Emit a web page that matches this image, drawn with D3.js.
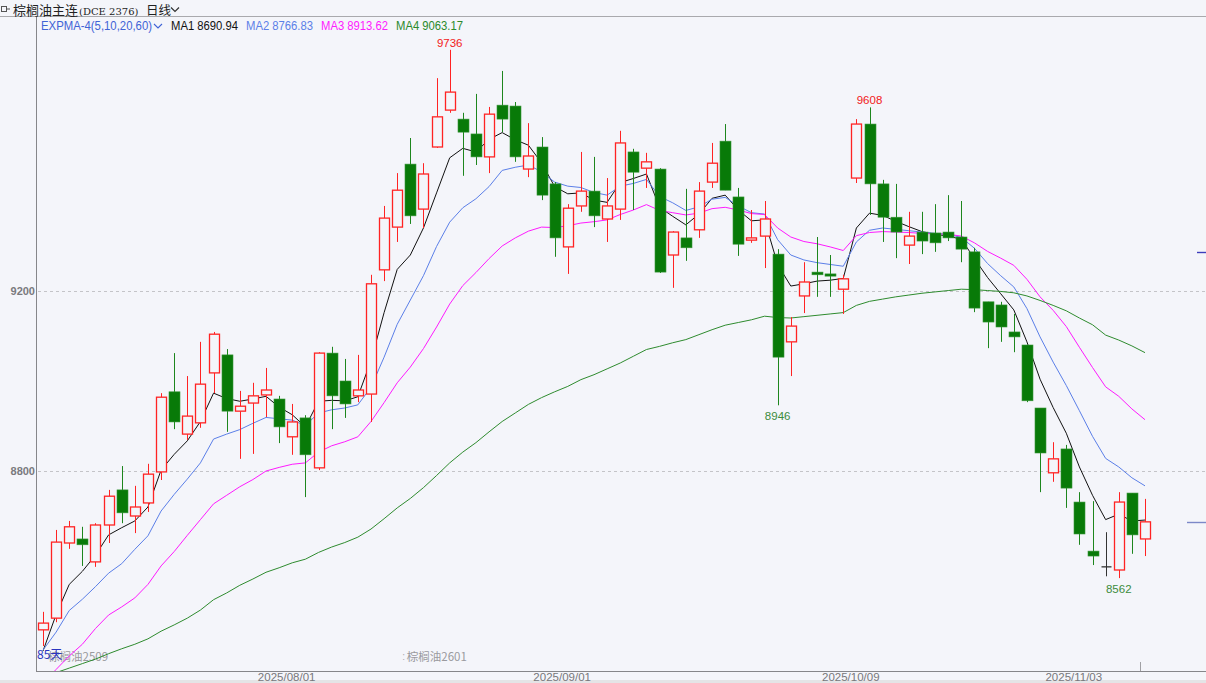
<!DOCTYPE html>
<html>
<head>
<meta charset="utf-8">
<script src="https://cdn.jsdelivr.net/npm/d3@7"></script>
<style>
html,body{margin:0;padding:0;background:#f4f5fa;}
svg{display:block;}
</style>
</head>
<body>
<svg id="chart" width="1206" height="683"></svg>
<script>
// ---------------- data ----------------
const dates = [
"2025-07-08","2025-07-09","2025-07-10","2025-07-11","2025-07-14","2025-07-15","2025-07-16","2025-07-17","2025-07-18",
"2025-07-21","2025-07-22","2025-07-23","2025-07-24","2025-07-25","2025-07-28","2025-07-29","2025-07-30","2025-07-31",
"2025-08-01","2025-08-04","2025-08-05","2025-08-06","2025-08-07","2025-08-08","2025-08-11","2025-08-12","2025-08-13",
"2025-08-14","2025-08-15","2025-08-18","2025-08-19","2025-08-20","2025-08-21","2025-08-22","2025-08-25","2025-08-26",
"2025-08-27","2025-08-28","2025-08-29","2025-09-01","2025-09-02","2025-09-03","2025-09-04","2025-09-05","2025-09-08",
"2025-09-09","2025-09-10","2025-09-11","2025-09-12","2025-09-15","2025-09-16","2025-09-17","2025-09-18","2025-09-19",
"2025-09-22","2025-09-23","2025-09-24","2025-09-25","2025-09-26","2025-09-29","2025-09-30","2025-10-09","2025-10-10",
"2025-10-13","2025-10-14","2025-10-15","2025-10-16","2025-10-17","2025-10-20","2025-10-21","2025-10-22","2025-10-23",
"2025-10-24","2025-10-27","2025-10-28","2025-10-29","2025-10-30","2025-10-31","2025-11-03","2025-11-04","2025-11-05",
"2025-11-06","2025-11-07","2025-11-10","2025-11-11"];

const openV = [8447,8473,8640,8649,8598,8680,8758,8700,8729,8798,8976,8882,8907,9018,9058,8933,8951,8969,8960,8876,
8918,8807,9062,9000,8967,8971,9247,9342,9482,9382,9520,9602,9582,9549,9498,9613,9611,9471,9520,9438,
9298,9389,9422,9360,9382,9509,9473,9471,9280,9318,9336,9442,9533,9409,9313,9322,9282,9087,9189,9242,
9238,9204,9451,9571,9438,9364,9302,9331,9329,9331,9320,9287,9176,9169,9109,9080,8940,8796,8849,8731,
8622,8587,8580,8751,8649];
const highV = [8487,8669,8689,8676,8684,8758,8811,8767,8816,8973,9062,9011,9087,9109,9071,8978,8996,9029,8967,8949,
8924,9064,9076,9049,9058,9236,9389,9462,9540,9484,9673,9736,9596,9638,9609,9689,9620,9573,9542,9442,
9393,9509,9498,9451,9556,9516,9507,9473,9333,9427,9442,9529,9571,9429,9380,9400,9293,9142,9264,9320,
9280,9236,9582,9608,9447,9438,9376,9376,9393,9413,9400,9296,9176,9176,9149,9080,8940,8864,8858,8753,
8733,8664,8753,8751,8738];
const lowV = [8411,8464,8627,8589,8587,8640,8684,8662,8709,8780,8893,8869,8896,8973,8887,8827,8838,8920,8862,8836,
8742,8802,8893,8918,8953,8909,9222,9309,9349,9340,9518,9596,9456,9480,9462,9553,9487,9453,9402,9276,
9238,9376,9342,9309,9358,9380,9429,9240,9207,9267,9318,9429,9424,9278,9307,9251,8946,9011,9151,9187,
9187,9149,9440,9369,9309,9273,9260,9282,9287,9311,9264,9153,9073,9087,9064,8953,8753,8776,8718,8636,
8591,8566,8562,8616,8611];
const closeV = [8462,8642,8676,8636,8680,8744,8707,8720,8793,8964,8909,8922,8993,9104,8933,8944,8967,8980,8898,8909,
8836,9062,8967,8949,8980,9216,9362,9424,9367,9460,9587,9642,9553,9498,9593,9582,9498,9500,9413,9318,
9384,9422,9367,9389,9529,9464,9487,9242,9331,9296,9422,9484,9424,9304,9318,9360,9053,9122,9220,9236,
9233,9227,9571,9438,9364,9331,9322,9311,9307,9318,9293,9162,9131,9120,9098,8956,8840,8827,8762,8660,
8611,8587,8731,8658,8687];

// EXPMA-4 (5,10,20,60)
const ma1 = [8400,8481,8548,8577,8613,8658,8674,8689,8720,8802,8837,8867,8910,8973,8961,8955,8960,8966,8942,8925,
8898,8955,8957,8956,8965,9045,9152,9248,9280,9340,9418,9496,9517,9509,9537,9552,9536,9524,9485,9432,
9416,9418,9402,9397,9441,9450,9460,9386,9366,9347,9371,9406,9413,9380,9356,9358,9259,9211,9216,9222,
9224,9228,9340,9373,9368,9355,9343,9332,9326,9322,9315,9272,9230,9194,9158,9087,9004,8941,8884,8809,
8746,8692,8704,8689,8691];
const ma2 = [8402,8442,8490,8515,8543,8573,8594,8626,8656,8711,8748,8782,8818,8871,8882,8892,8906,8919,8916,8913,
8901,8929,8936,8940,8947,8986,9053,9126,9180,9234,9299,9353,9385,9405,9432,9468,9475,9480,9465,9442,
9433,9430,9419,9413,9433,9439,9448,9410,9396,9379,9387,9404,9408,9389,9374,9371,9314,9280,9269,9263,
9259,9255,9309,9335,9340,9337,9334,9331,9328,9326,9319,9295,9261,9234,9209,9161,9098,9042,8990,8934,
8877,8828,8809,8785,8767];
const ma3 = [8329,8359,8389,8415,8450,8480,8498,8518,8548,8589,8621,8657,8692,8727,8746,8765,8781,8800,8808,8815,
8818,8842,8856,8865,8876,8910,8952,8996,9031,9072,9120,9171,9212,9241,9272,9300,9318,9333,9342,9341,
9345,9351,9354,9358,9370,9380,9392,9379,9374,9369,9373,9383,9386,9380,9372,9370,9340,9320,9310,9305,
9298,9290,9323,9330,9332,9331,9330,9328,9327,9326,9322,9307,9288,9273,9257,9226,9187,9157,9121,9075,
9030,8987,8966,8938,8914];
const ma4 = [8345,8352,8362,8372,8382,8394,8405,8415,8427,8444,8458,8473,8491,8514,8529,8546,8560,8575,8585,8596,
8604,8619,8631,8641,8653,8671,8694,8718,8739,8763,8790,8818,8842,8863,8887,8910,8929,8948,8963,8976,
8988,9003,9014,9027,9040,9055,9070,9077,9085,9092,9103,9114,9124,9130,9136,9144,9141,9140,9143,9146,
9149,9152,9168,9177,9182,9187,9191,9195,9198,9201,9204,9203,9201,9199,9196,9189,9179,9168,9156,9140,
9125,9102,9091,9078,9063];

const maNames  = ["MA1","MA2","MA3","MA4"];
const maLast   = ["8690.94","8766.83","8913.62","9063.17"];
const indicatorName = "EXPMA-4(5,10,20,60)";
const yTickValues = [8800, 9200];
const xTickDates = ["2025-08-01","2025-09-01","2025-10-09","2025-11-03"];
const extremeDates  = ["2025-08-20","2025-10-13","2025-09-24","2025-11-07"];
const extremeValues = [9736, 9608, 8946, 8562];
const extremeKinds  = ["high","high","low","low"];
const rightMarkers = [9287, 8687];
const titleText = "棕榈油主连";
const titleCode = "(DCE  2376)";
const periodText = "日线";
const daysText = "85天";
const contractLabels = ["棕榈油2509", "棕榈油2601"];
const contractDates  = ["2025-07-08", "2025-08-14"];

// ---------------- drawing ----------------
const W = 1206, H = 683;
const BG = "#f4f5fa";
const plotL = 37, plotT = 17, plotB = 671, plotR = W;
const svg = d3.select("#chart");

svg.append("rect").attr("width", W).attr("height", H).attr("fill", BG);
svg.append("rect").attr("x", 0).attr("y", 680).attr("width", W).attr("height", 3).attr("fill", "#e4e4e6");

const x = d3.scalePoint().domain(dates).range([43, 1145]);
const y = d3.scaleLinear().domain([8800, 9200]).range([471, 291]);
const step = x.step();

const latin = "'Liberation Sans', Arial, sans-serif";
const cjk = "'Noto Sans CJK SC', 'Liberation Sans', sans-serif";

// grid lines
svg.append("g").selectAll("line").data(yTickValues).join("line")
  .attr("x1", plotL + 1).attr("x2", plotR)
  .attr("y1", d => Math.round(y(d)) + 0.5).attr("y2", d => Math.round(y(d)) + 0.5)
  .attr("stroke", "#c4c4c8").attr("stroke-dasharray", "3,3").attr("stroke-width", 1);

// y axis labels
const yAxis = d3.axisLeft(y).tickValues(yTickValues).tickSize(0).tickPadding(2).tickFormat(d3.format("d"));
const yg = svg.append("g").attr("transform", `translate(${plotL},0)`).call(yAxis);
yg.select(".domain").remove();
yg.selectAll("text").attr("font-family", latin).attr("font-size", 11).attr("font-weight", "bold").attr("fill", "#7a7a7e");

// x axis labels
const xAxis = d3.axisBottom(x).tickValues(xTickDates).tickSize(0).tickPadding(0)
  .tickFormat(d => d.replace(/-/g, "/"));
const xg = svg.append("g").attr("transform", `translate(0,${plotB})`).call(xAxis);
xg.select(".domain").remove();
xg.selectAll("text").attr("font-family", latin).attr("font-size", 11.5).attr("fill", "#77777b")
  .attr("text-anchor", "middle").attr("dx", 7).attr("dy", 0).attr("y", 9.5);

// frame lines
svg.append("line").attr("x1", 0).attr("x2", W).attr("y1", 16.5).attr("y2", 16.5).attr("stroke", "#a9a9ad");
svg.append("line").attr("x1", plotL - 0.5).attr("x2", plotL - 0.5).attr("y1", 17).attr("y2", plotB).attr("stroke", "#86868a");
svg.append("line").attr("x1", plotL - 1).attr("x2", W).attr("y1", plotB + 0.5).attr("y2", plotB + 0.5).attr("stroke", "#86868a");

// clip
svg.append("defs").append("clipPath").attr("id", "plotclip")
  .append("rect").attr("x", plotL).attr("y", plotT + 1).attr("width", plotR - plotL).attr("height", plotB - plotT - 1);
const plot = svg.append("g").attr("clip-path", "url(#plotclip)");

// contract labels (behind the lines)
plot.append("g").selectAll("text").data(contractLabels).join("text")
  .attr("x", (d, i) => i === 0 ? 48 : x(contractDates[i]) + step / 2 + 3)
  .attr("y", 661)
  .attr("font-family", cjk).attr("font-size", 11.5).attr("fill", "#9a9a9e").text(d => d);
plot.append("text").attr("x", x(contractDates[1]) + step / 2 - 1.5).attr("y", 660)
  .attr("font-family", latin).attr("font-size", 10).attr("fill", "#aaaaae").text(":");

// EMA lines
const maSeries = [ma1, ma2, ma3, ma4];
const maColors = ["#111111", "#5b7fe8", "#ff1aff", "#2e8b2e"];
const lineGen = d3.line().x((d, i) => x(dates[i])).y(d => y(d));
maSeries.forEach((s, k) => {
  plot.append("path").datum(s).attr("d", lineGen).attr("fill", "none")
    .attr("stroke", maColors[k]).attr("stroke-width", 1).attr("stroke-linejoin", "round");
});

// candles
const RED = "#ff2323", GREEN = "#087a08", GREEN_W = "#1d861d";
const bw = 10;
const candles = plot.append("g");
dates.forEach((d, i) => {
  const o = openV[i], c = closeV[i], h = highV[i], l = lowV[i];
  const cx = Math.round(x(d)) + 0.5;
  const yo = y(o), yc = y(c), yh = y(h), yl = y(l);
  const g = candles.append("g");
  if (c > o) {
    g.append("line").attr("x1", cx).attr("x2", cx).attr("y1", yh).attr("y2", yc).attr("stroke", RED);
    g.append("line").attr("x1", cx).attr("x2", cx).attr("y1", yo).attr("y2", yl).attr("stroke", RED);
    g.append("rect").attr("x", cx - bw / 2).attr("y", yc).attr("width", bw).attr("height", Math.max(1, yo - yc))
      .attr("fill", BG).attr("stroke", RED).attr("stroke-width", 1.3);
  } else if (c < o) {
    g.append("line").attr("x1", cx).attr("x2", cx).attr("y1", yh).attr("y2", yl).attr("stroke", GREEN_W);
    g.append("rect").attr("x", cx - bw / 2 - 0.5).attr("y", yo).attr("width", bw + 1).attr("height", Math.max(1.5, yc - yo))
      .attr("fill", GREEN).attr("stroke", "#3a963a").attr("stroke-width", 0.6);
  } else {
    g.append("line").attr("x1", cx).attr("x2", cx).attr("y1", yh).attr("y2", yl).attr("stroke", "#333");
    g.append("line").attr("x1", cx - bw / 2).attr("x2", cx + bw / 2).attr("y1", yo).attr("y2", yo).attr("stroke", "#333").attr("stroke-width", 1.3);
  }
});

// extreme labels
svg.append("g").selectAll("text").data(extremeValues).join("text")
  .attr("x", (d, i) => x(extremeDates[i]))
  .attr("y", (d, i) => extremeKinds[i] === "high" ? y(d) - 3 : y(d) + 14.5)
  .attr("text-anchor", "middle").attr("font-family", latin).attr("font-size", 11.5)
  .attr("fill", (d, i) => extremeKinds[i] === "high" ? "#f22020" : "#3c8c3c")
  .text(d => d);

// day count
svg.append("text").attr("x", 37).attr("y", 659).attr("font-family", cjk).attr("font-size", 12)
  .attr("fill", "#2a35c0").text(daysText);

// right-side markers
svg.append("g").selectAll("line").data(rightMarkers).join("line")
  .attr("x1", (d, i) => i === 0 ? 1197 : 1187).attr("x2", W)
  .attr("y1", d => Math.round(y(d)) + 0.5).attr("y2", d => Math.round(y(d)) + 0.5)
  .attr("stroke", (d, i) => i === 0 ? "#3d3dbb" : "#7c88c8").attr("stroke-width", 1.4);

// last-bar tick on the time axis
svg.append("line").attr("x1", Math.round(x(dates[dates.length - 1])) - 4.5).attr("x2", Math.round(x(dates[dates.length - 1])) - 4.5)
  .attr("y1", 662).attr("y2", plotB).attr("stroke", "#a0a0a4");

// title row
svg.append("rect").attr("x", 1.5).attr("y", 6.5).attr("width", 5).attr("height", 5).attr("fill", "none").attr("stroke", "#555");
svg.append("line").attr("x1", 6).attr("x2", 10).attr("y1", 9).attr("y2", 9).attr("stroke", "#555");
const title = svg.append("text").attr("x", 13).attr("y", 14.5).attr("fill", "#222");
title.append("tspan").attr("font-family", cjk).attr("font-size", 13).text(titleText);
title.append("tspan").attr("font-family", "'DejaVu Serif', serif").attr("font-size", 10).attr("dx", 1).text(titleCode);
svg.append("text").attr("x", 146).attr("y", 14.5).attr("font-family", cjk).attr("font-size", 12.5).attr("fill", "#222").text(periodText);
svg.append("path").attr("d", "M171,7.5 L175,11.5 L179,7.5").attr("fill", "none").attr("stroke", "#333").attr("stroke-width", 1.2);

// legend row
const legend = svg.append("g").attr("font-family", latin).attr("font-size", 12);
legend.append("text").attr("x", 41).attr("y", 30).attr("fill", "#3f63d6")
  .attr("textLength", 111).attr("lengthAdjust", "spacingAndGlyphs").text(indicatorName);
legend.append("path").attr("d", "M154,24 L158,28 L162,24").attr("fill", "none").attr("stroke", "#3f63d6").attr("stroke-width", 1.1);
const legX = [171, 246, 321, 396];
const legColors = ["#111111", "#5b7fe8", "#ff1aff", "#2a8a2a"];
maNames.forEach((n, k) => {
  legend.append("text").attr("x", legX[k]).attr("y", 30).attr("fill", legColors[k])
    .attr("textLength", 67).attr("lengthAdjust", "spacingAndGlyphs").text(n + " " + maLast[k]);
});
</script>
</body>
</html>
